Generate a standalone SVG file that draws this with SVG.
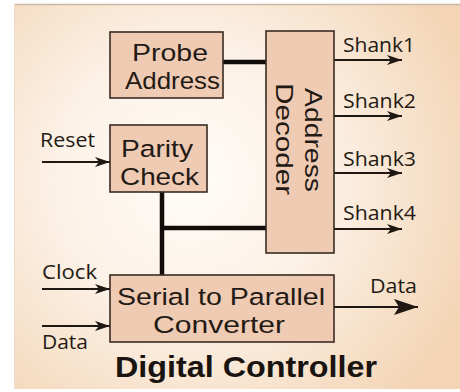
<svg xmlns="http://www.w3.org/2000/svg" width="460" height="392" viewBox="0 0 460 392">
  <defs>
    <radialGradient id="panelFill" cx="190" cy="180" r="300" gradientUnits="userSpaceOnUse">
      <stop offset="0" stop-color="#fffcf9"/>
      <stop offset="0.45" stop-color="#fcf1e6"/>
      <stop offset="1" stop-color="#f3d5b6"/>
    </radialGradient>
    <marker id="arrow" markerUnits="userSpaceOnUse" markerWidth="18" markerHeight="12" viewBox="-16 -6 18 12" refX="0" refY="0" orient="auto">
      <path d="M0,0 L-15,-5 L-11,0 L-15,5 Z" fill="#1e1712"/>
    </marker>
    <marker id="arrowBig" markerUnits="userSpaceOnUse" markerWidth="28" markerHeight="20" viewBox="-26 -10 28 20" refX="0" refY="0" orient="auto">
      <path d="M0,0 L-24,-8 L-19,0 L-24,8 Z" fill="#1e1712"/>
    </marker>
    <style>
      .box { fill: #efcbb4; stroke: #3a2b22; stroke-width: 1.6; }
      .btxt { font-family: "Liberation Sans", Arial, sans-serif; font-size: 24.5px; fill: #241a14; }
      .lbl { font-family: "Open Sans", "Noto Sans", sans-serif; font-size: 20px; fill: #241a14; }
      .title { font-family: "Liberation Sans", Arial, sans-serif; font-weight: bold; font-size: 30px; fill: #1a1410; }
      .sig { stroke: #1e1712; stroke-width: 2; fill: none; }
      .bus { stroke: #120d0a; stroke-width: 4.5; fill: none; }
    </style>
  </defs>

  <!-- background panel -->
  <rect x="0" y="0" width="460" height="392" fill="#ffffff"/>
  <rect x="14" y="4" width="446" height="385" fill="url(#panelFill)"/>
  <line x1="14" y1="4.5" x2="460" y2="4.5" stroke="#c9b8a2" stroke-width="1.5"/>
  <line x1="14.5" y1="4" x2="14.5" y2="389" stroke="#eddccb" stroke-width="1"/>

  <!-- connectors -->
  <g id="connectors">
    <line class="bus" x1="223" y1="62" x2="266" y2="62"/>
    <line class="bus" x1="162" y1="192" x2="162" y2="275"/>
    <line class="bus" x1="160" y1="228" x2="266" y2="228"/>
    <line class="sig" x1="334" y1="60" x2="402" y2="60" marker-end="url(#arrow)"/>
    <line class="sig" x1="334" y1="116" x2="402" y2="116" marker-end="url(#arrow)"/>
    <line class="sig" x1="334" y1="173" x2="402" y2="173" marker-end="url(#arrow)"/>
    <line class="sig" x1="334" y1="229" x2="402" y2="229" marker-end="url(#arrow)"/>
    <line class="sig" x1="42" y1="162" x2="110" y2="162" marker-end="url(#arrow)"/>
    <line class="sig" x1="42" y1="289" x2="110" y2="289" marker-end="url(#arrow)"/>
    <line class="sig" x1="42" y1="326" x2="110" y2="326" marker-end="url(#arrow)"/>
    <line class="sig" x1="334" y1="307" x2="418" y2="307" stroke-width="2.5" marker-end="url(#arrowBig)"/>
  </g>

  <!-- signal labels -->
  <g id="labels">
    <text class="lbl" x="343" y="52" textLength="72" lengthAdjust="spacingAndGlyphs">Shank1</text>
    <text class="lbl" x="343" y="108" textLength="73" lengthAdjust="spacingAndGlyphs">Shank2</text>
    <text class="lbl" x="343" y="166" textLength="73" lengthAdjust="spacingAndGlyphs">Shank3</text>
    <text class="lbl" x="343" y="220" textLength="73" lengthAdjust="spacingAndGlyphs">Shank4</text>
    <text class="lbl" x="40" y="147" textLength="55" lengthAdjust="spacingAndGlyphs">Reset</text>
    <text class="lbl" x="42" y="279" textLength="55" lengthAdjust="spacingAndGlyphs">Clock</text>
    <text class="lbl" x="42" y="349" textLength="46" lengthAdjust="spacingAndGlyphs">Data</text>
    <text class="lbl" x="370" y="293" textLength="47" lengthAdjust="spacingAndGlyphs">Data</text>
  </g>

  <!-- blocks -->
  <g id="probe-address">
    <rect class="box" x="110" y="32" width="113" height="66"/>
    <text class="btxt"><tspan x="132" y="61" textLength="76" lengthAdjust="spacingAndGlyphs">Probe</tspan><tspan x="125" y="89" textLength="95" lengthAdjust="spacingAndGlyphs">Address</tspan></text>
  </g>

  <g id="parity-check">
    <rect class="box" x="110" y="125" width="97" height="67"/>
    <text class="btxt"><tspan x="121" y="157" textLength="72" lengthAdjust="spacingAndGlyphs">Parity</tspan><tspan x="120" y="185" textLength="79" lengthAdjust="spacingAndGlyphs">Check</tspan></text>
  </g>

  <g id="address-decoder">
    <rect class="box" x="266" y="31" width="68" height="222"/>
    <text class="btxt" transform="rotate(90)"><tspan x="88" y="-305" textLength="104" lengthAdjust="spacingAndGlyphs">Address</tspan><tspan x="83" y="-276" textLength="112" lengthAdjust="spacingAndGlyphs">Decoder</tspan></text>
  </g>

  <g id="serial-to-parallel">
    <rect class="box" x="110" y="275" width="224" height="67"/>
    <text class="btxt"><tspan x="117" y="305" textLength="208" lengthAdjust="spacingAndGlyphs">Serial to Parallel</tspan><tspan x="153" y="332.5" textLength="132" lengthAdjust="spacingAndGlyphs">Converter</tspan></text>
  </g>

  <!-- caption -->
  <text class="title" x="115" y="377" textLength="262" lengthAdjust="spacingAndGlyphs">Digital Controller</text>
</svg>
